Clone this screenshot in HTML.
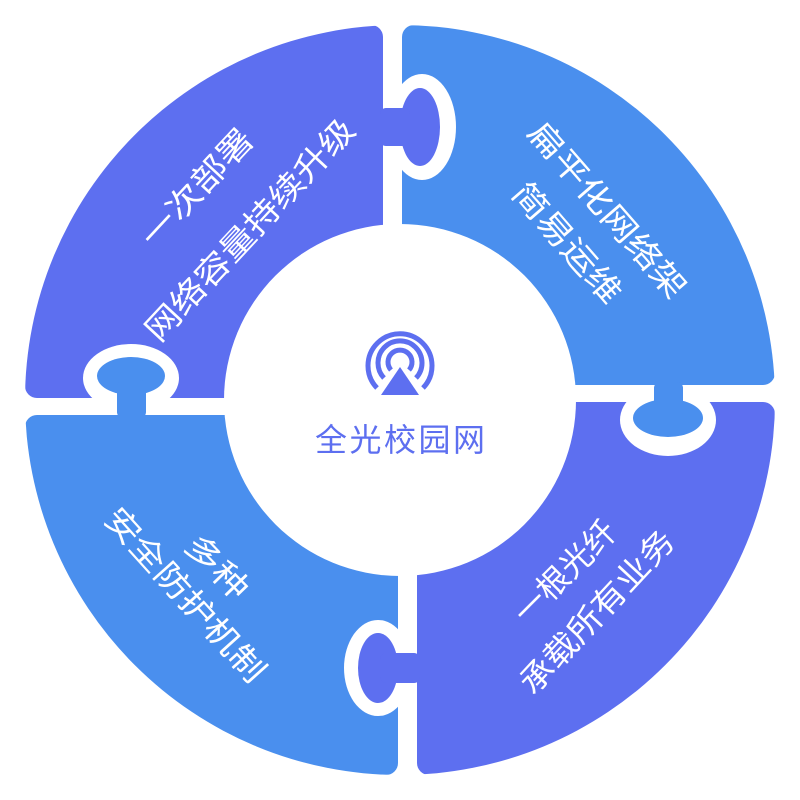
<!DOCTYPE html>
<html><head><meta charset="utf-8"><style>
html,body{margin:0;padding:0;background:#fff;width:800px;height:800px;overflow:hidden}
text{font-family:"Liberation Sans","Noto Sans CJK SC",sans-serif}
</style></head><body>
<svg width="800" height="800" viewBox="0 0 800 800" xmlns="http://www.w3.org/2000/svg">
<defs><clipPath id="c"><circle cx="400" cy="400" r="375"/></clipPath></defs>
<g clip-path="url(#c)">
<rect x="25" y="25" width="358" height="373" rx="12" fill="#5d6ff0"/>
<rect x="402" y="25" width="373" height="360" rx="12" fill="#4a8fee"/>
<rect x="25" y="415" width="373" height="360" rx="12" fill="#4a8fee"/>
<rect x="417" y="402" width="358" height="373" rx="12" fill="#5d6ff0"/>
</g>
<!-- white outlines -->
<g fill="#fff">
<ellipse cx="422" cy="127" rx="34" ry="53"/>
<rect x="383" y="98" width="30" height="60"/>
<ellipse cx="131" cy="378" rx="48" ry="34"/>
<rect x="100" y="385" width="62" height="30"/>
<ellipse cx="668" cy="420" rx="48" ry="36"/>
<rect x="638" y="385" width="60" height="30"/>
<ellipse cx="378" cy="668" rx="34" ry="48"/>
<rect x="390" y="638" width="27" height="60"/>
</g>
<!-- knobs -->
<g fill="#5d6ff0">
<ellipse cx="420" cy="127" rx="20" ry="39"/>
<rect x="380" y="108" width="30" height="38" rx="6"/>
</g>
<g fill="#4a8fee">
<ellipse cx="131" cy="376" rx="34" ry="19"/>
<rect x="117" y="380" width="29" height="38" rx="6"/>
</g>
<g fill="#4a8fee">
<ellipse cx="668" cy="418" rx="35" ry="19"/>
<rect x="654" y="382" width="29" height="36" rx="6"/>
</g>
<g fill="#5d6ff0">
<ellipse cx="378" cy="668" rx="20" ry="35"/>
<rect x="380" y="653" width="40" height="30" rx="6"/>
</g>
<circle cx="400" cy="400" r="176" fill="#fff"/>
<!-- icon -->
<g fill="none" stroke="#5d6ff0" stroke-width="5">
<path d="M377 388 A32 32 0 1 1 423 388"/>
<path d="M384 378 A22 22 0 1 1 416 378"/>
<path d="M391 370 A12 12 0 1 1 409 370"/>
</g>
<polygon points="400,367 419,395 381,395" fill="#5d6ff0"/>
<text x="400" y="440" text-anchor="middle" dominant-baseline="central" font-size="32" fill="#5d6ff0" textLength="170">全光校园网</text>
<g fill="#fff" font-size="32" text-anchor="middle" dominant-baseline="central">
<text transform="translate(197,188) rotate(-47)" textLength="148" lengthAdjust="spacingAndGlyphs">一次部署</text>
<text transform="translate(250,230) rotate(-47)" textLength="290" lengthAdjust="spacingAndGlyphs">网络容量持续升级</text>
<text transform="translate(607,210) rotate(49)" textLength="222" lengthAdjust="spacingAndGlyphs">扁平化网络架</text>
<text transform="translate(567,243) rotate(49)" textLength="148" lengthAdjust="spacingAndGlyphs">简易运维</text>
<text transform="translate(217,567) rotate(46)" textLength="76" lengthAdjust="spacingAndGlyphs">多种</text>
<text transform="translate(185,595) rotate(48)" textLength="222" lengthAdjust="spacingAndGlyphs">安全防护机制</text>
<text transform="translate(565,572) rotate(-45)" textLength="130" lengthAdjust="spacingAndGlyphs">一根光纤</text>
<text transform="translate(597,612) rotate(-47)" textLength="210" lengthAdjust="spacingAndGlyphs">承载所有业务</text>
</g>
</svg>
</body></html>
